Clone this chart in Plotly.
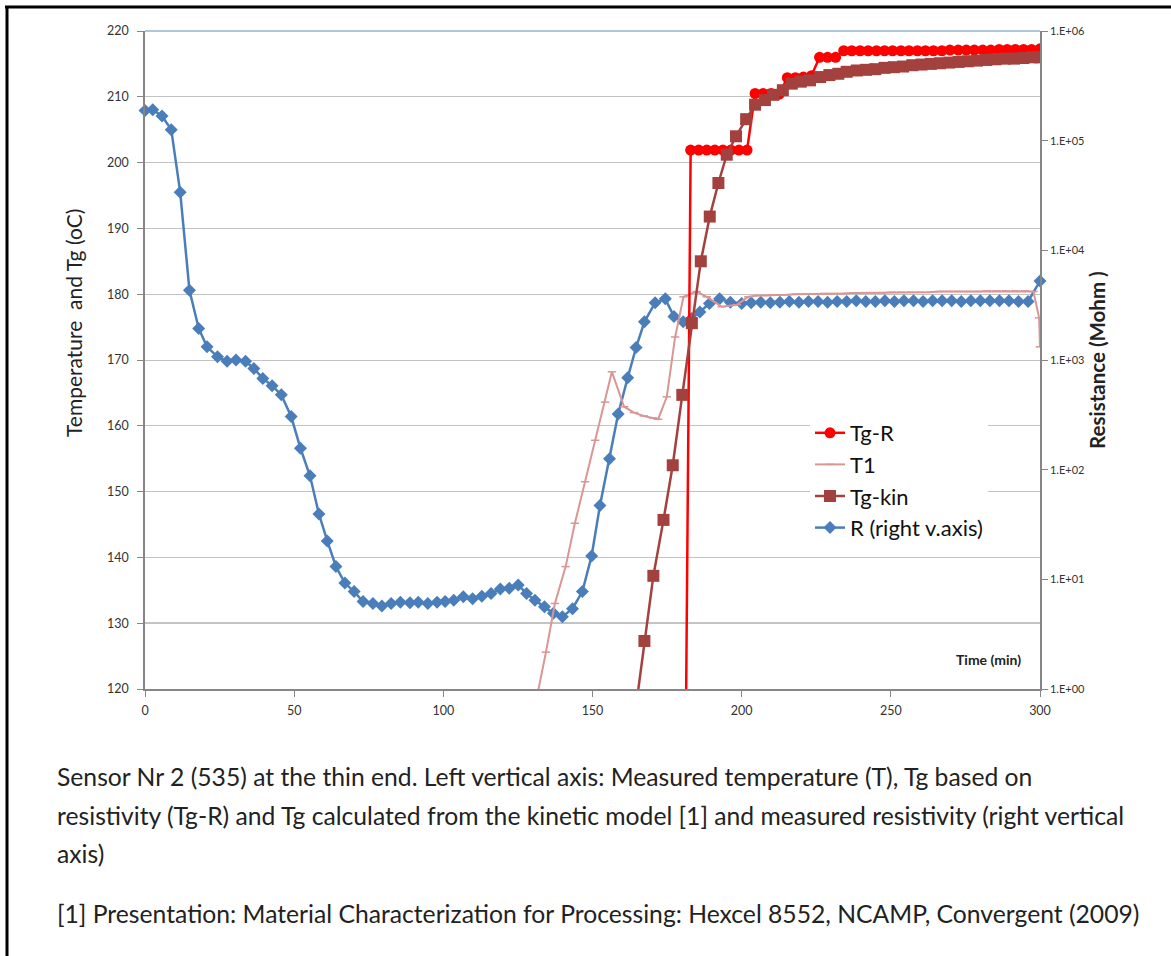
import plotly.graph_objects as go

# ------------------------------------------------------------------ data
# R (right axis, Mohm) - blue diamonds
R_time = [0.0, 2.6, 5.7, 8.8, 11.8, 14.9, 18.0, 20.8, 24.3, 27.5,
          30.5, 33.7, 36.5, 39.5, 42.6, 45.7, 49.0, 52.1, 55.3, 58.3,
          61.1, 64.0, 67.0, 70.1, 73.1, 76.4, 79.4, 82.5, 85.6, 88.8,
          91.6, 94.8, 97.9, 100.6, 103.5, 106.7, 109.8, 112.9, 116.0, 119.1,
          122.1, 125.1, 127.9, 130.7, 133.9, 136.9, 139.9, 143.3, 146.6, 149.7,
          152.5, 155.7, 158.6, 161.8, 164.6, 167.4, 171.0, 174.4, 177.3, 180.4,
          183.2, 186.0, 189.2, 192.6, 196.2, 200.0, 203.2, 206.4, 209.6, 212.8,
          216.0, 219.2, 222.4, 225.6, 228.8, 232.0, 235.2, 238.4, 241.6, 244.8,
          248.0, 251.2, 254.4, 257.6, 260.8, 264.0, 267.2, 270.4, 273.6, 276.8,
          280.0, 283.2, 286.4, 289.6, 292.8, 296.0, 300.0]
R_mohm = [188000, 191000, 168000, 126000, 33900, 4330, 1940, 1320, 1070, 973,
          1000, 973, 836, 679, 583, 481, 305, 157, 87.9, 39.4,
          22.4, 13.1, 9.25, 7.73, 6.28, 6.03, 5.70, 6.03, 6.19, 6.11,
          6.19, 6.03, 6.19, 6.28, 6.46, 6.92, 6.64, 7.01, 7.41, 8.17,
          8.28, 8.87, 7.41, 6.46, 5.62, 4.90, 4.57, 5.40, 7.73, 16.3,
          47.2, 126, 322, 689, 1300, 2230, 3330, 3610, 2490, 2230,
          2390, 2740, 3280, 3610, 3370, 3280, 3330, 3370, 3330, 3370,
          3420, 3370, 3420, 3420, 3370, 3420, 3420, 3470, 3420, 3420,
          3470, 3420, 3470, 3470, 3420, 3470, 3470, 3470, 3420, 3470,
          3470, 3470, 3470, 3470, 3420, 3420, 5250]

# T1 (left axis, oC) - rose line with dash markers
T1_time = [128.0, 131.2, 134.4, 137.4, 141.0, 144.1, 147.5, 150.9, 154.2, 156.5,
           160.6, 163.9, 167.2, 170.3, 172.0, 174.9, 177.7, 180.5, 184.9, 188.3,
           193.3, 198.4, 202.2, 205.4, 208.6, 211.8, 215.0, 218.2, 221.4, 224.6,
           227.8, 231.0, 234.2, 237.4, 240.6, 243.8, 247.0, 250.2, 253.4, 256.6,
           259.8, 263.0, 266.2, 269.4, 272.6, 275.8, 279.0, 282.2, 285.4, 288.6,
           291.8, 295.0, 297.8, 299.7, 300.0]
T1_temp = [112.0, 118.4, 125.6, 133.0, 138.6, 145.2, 151.5, 157.8, 163.6, 168.2,
           162.9, 162.0, 161.5, 161.2, 161.0, 164.4, 173.5, 179.6, 180.4, 179.6,
           178.1, 178.4, 179.6, 179.8, 179.8, 179.9, 179.9, 180.0, 180.0, 180.0,
           180.1, 180.1, 180.1, 180.2, 180.2, 180.2, 180.2, 180.3, 180.3, 180.3,
           180.3, 180.3, 180.4, 180.4, 180.4, 180.4, 180.4, 180.5, 180.5, 180.5,
           180.5, 180.5, 180.4, 176.4, 172.0]

# Tg-R (left axis, oC) - red circles
TgR_time = [180.3, 182.9, 185.6, 188.3, 191.0, 193.7, 196.4, 199.1, 201.8, 204.5,
            207.2, 209.9, 212.6, 215.3, 218.0, 220.7, 223.4, 226.1, 228.8, 231.5,
            234.2, 236.9, 239.7, 242.4, 245.2, 247.9, 250.6, 253.4, 256.1, 258.9,
            261.6, 264.3, 267.1, 269.8, 272.6, 275.3, 278.0, 280.8, 283.5, 286.3,
            289.0, 291.7, 294.5, 297.2, 300.0]
TgR_temp = [60.0, 201.9, 201.9, 201.9, 201.9, 201.9, 201.9, 201.9, 201.9, 210.5,
            210.5, 210.5, 210.4, 212.9, 212.9, 213.0, 213.2, 216.0, 216.0, 216.0,
            217.0, 217.0, 217.0, 217.0, 217.0, 217.0, 217.0, 217.0, 217.0, 217.0,
            217.0, 217.0, 217.0, 217.1, 217.1, 217.1, 217.1, 217.1, 217.1, 217.2,
            217.2, 217.2, 217.2, 217.2, 217.3]

# Tg-kin (left axis, oC) - dark red squares
Tgkin_time = [164.2, 167.4, 170.4, 173.8, 176.9, 180.1, 183.3, 186.3, 189.3, 192.2,
              195.0, 198.1, 201.5, 204.5, 207.8, 210.6, 213.8, 216.8, 219.8, 222.9,
              226.3, 229.4, 232.4, 235.2, 238.6, 241.7, 244.8, 247.9, 251.0, 254.1,
              257.2, 260.3, 263.4, 266.5, 269.6, 272.7, 275.8, 278.9, 282.0, 285.1,
              288.2, 291.3, 294.4, 297.5, 300.0]
Tgkin_temp = [116.0, 127.3, 137.2, 145.7, 154.0, 164.7, 175.6, 185.0, 191.8, 196.9,
              201.2, 204.0, 206.6, 208.8, 209.5, 210.3, 211.0, 212.0, 212.3, 212.5,
              213.0, 213.3, 213.5, 213.8, 214.0, 214.1, 214.2, 214.4, 214.5, 214.6,
              214.8, 214.9, 215.0, 215.1, 215.2, 215.3, 215.4, 215.5, 215.6, 215.7,
              215.8, 215.8, 215.9, 216.0, 216.0]

x_ticks = [0, 50, 100, 150, 200, 250, 300]
temp_ticks = [120, 130, 140, 150, 160, 170, 180, 190, 200, 210, 220]
res_tickvals = [1, 10, 100, 1000, 10000, 100000, 1000000]
res_ticktext = ["1.E+00", "1.E+01", "1.E+02", "1.E+03", "1.E+04", "1.E+05", "1.E+06"]

caption_lines = [
    "Sensor Nr 2 (535) at the thin end. Left vertical axis: Measured temperature (T), Tg based on",
    "resistivity (Tg-R) and Tg calculated from the kinetic model [1] and measured resistivity (right vertical",
    "axis)",
    "[1] Presentation: Material Characterization for Processing: Hexcel 8552, NCAMP, Convergent (2009)",
]

# ------------------------------------------------------------------ figure
FONT = "Lato, 'Open Sans', sans-serif"
W, H = 1171, 956
L, R_, T_, B = 145, 1040, 31, 689          # plot area in page pixels


def px(xp):
    return (xp - L) / (R_ - L)


def py(yp):
    return (B - yp) / (B - T_)


fig = go.Figure()

fig.add_trace(go.Scatter(
    x=R_time, y=R_mohm, name="R (right v.axis)", yaxis="y", mode="lines+markers",
    line=dict(color="#4A7EBB", width=2.5),
    marker=dict(symbol="diamond", size=10, color="#4A7EBB"),
    legendrank=4, cliponaxis=False))

fig.add_trace(go.Scatter(
    x=T1_time, y=T1_temp, name="T1", yaxis="y2", mode="lines+markers",
    line=dict(color="#D99694", width=2),
    marker=dict(symbol="line-ew", size=6, color="#D99694",
                line=dict(color="#D99694", width=1.5)),
    legendrank=2))

fig.add_trace(go.Scatter(
    x=TgR_time, y=TgR_temp, name="Tg-R", yaxis="y2", mode="lines+markers",
    line=dict(color="#FF0000", width=2.5),
    marker=dict(symbol="circle", size=11, color="#FF0000"),
    legendrank=1))

fig.add_trace(go.Scatter(
    x=Tgkin_time, y=Tgkin_temp, name="Tg-kin", yaxis="y2", mode="lines+markers",
    line=dict(color="#A3413E", width=2.5),
    marker=dict(symbol="square", size=12, color="#A3413E"),
    legendrank=3))

axis_col = "#868686"
tickfont = dict(family=FONT, size=12.5, color="#333333")

fig.update_layout(
    width=W, height=H,
    margin=dict(l=L, r=W - R_, t=T_, b=H - B, pad=0),
    paper_bgcolor="white", plot_bgcolor="white",
    font=dict(family=FONT, color="#222222"),
    showlegend=True,
    legend=dict(
        x=px(810), y=py(412), xanchor="left", yanchor="top",
        bgcolor="white", borderwidth=0,
        font=dict(family=FONT, size=22, color="#111111"),
        itemwidth=30, tracegroupgap=0,
    ),
    xaxis=dict(
        range=[0, 300], tickvals=x_ticks, showgrid=False, zeroline=False,
        showline=True, linecolor=axis_col, linewidth=1.5,
        ticks="outside", ticklen=6, tickcolor=axis_col, tickfont=tickfont,
        ticklabelstandoff=3,
    ),
    yaxis=dict(
        type="log", range=[0, 6], side="right",
        tickvals=res_tickvals, ticktext=res_ticktext,
        showgrid=False, zeroline=False,
        showline=True, linecolor=axis_col, linewidth=1.5,
        ticks="outside", ticklen=6, tickcolor=axis_col,
        tickfont=dict(family=FONT, size=11, color="#333333"),
    ),
    yaxis2=dict(
        overlaying="y", side="left", range=[120, 220], tickvals=temp_ticks,
        showgrid=True, gridcolor="#C3C3C3", gridwidth=1.3, zeroline=False,
        showline=True, linecolor=axis_col, linewidth=1.5,
        ticks="outside", ticklen=6, tickcolor=axis_col, tickfont=tickfont,
        ticklabelstandoff=6,
    ),
)

# special horizontal lines (top light-blue one, darker 130 line)
fig.add_shape(type="line", xref="x", yref="paper", x0=0, x1=300, y0=1.0, y1=1.0,
              line=dict(color="#95B3D7", width=1.5), layer="between")
fig.add_shape(type="line", xref="x", yref="paper", x0=0, x1=300, y0=0.1, y1=0.1,
              line=dict(color="#8C8C8C", width=1.5), layer="between")

# page frame (top and left thick black lines)
fig.add_shape(type="line", xref="paper", yref="paper",
              x0=px(5), x1=px(1171), y0=py(7), y1=py(7),
              line=dict(color="black", width=3))
fig.add_shape(type="line", xref="paper", yref="paper",
              x0=px(7), x1=px(7), y0=py(6), y1=py(956),
              line=dict(color="black", width=3))

# axis titles
fig.add_annotation(text="Temperature  and Tg (oC)", xref="paper", yref="paper",
                   x=px(73), y=py(323), xanchor="center", yanchor="middle",
                   textangle=-90, showarrow=False,
                   font=dict(family=FONT, size=21, color="#222222"))
fig.add_annotation(text="<b>Resistance (Mohm )</b>", xref="paper", yref="paper",
                   x=px(1097), y=py(360), xanchor="center", yanchor="middle",
                   textangle=-90, showarrow=False,
                   font=dict(family=FONT, size=20.5, color="#222222"))
fig.add_annotation(text="<b>Time (min)</b>", xref="paper", yref="paper",
                   x=px(988), y=py(659), xanchor="center", yanchor="middle",
                   showarrow=False,
                   font=dict(family=FONT, size=14, color="#222222"))

# caption
for txt, yy in zip(caption_lines, [776, 815, 853, 913]):
    fig.add_annotation(text=txt, xref="paper", yref="paper",
                       x=px(55), y=py(yy), xanchor="left", yanchor="middle",
                       showarrow=False, align="left",
                       font=dict(family=FONT, size=24.7, color="#222222"))

fig.write_html("out.html", config={"displayModeBar": False},
               post_script="document.body.style.margin='0';")
